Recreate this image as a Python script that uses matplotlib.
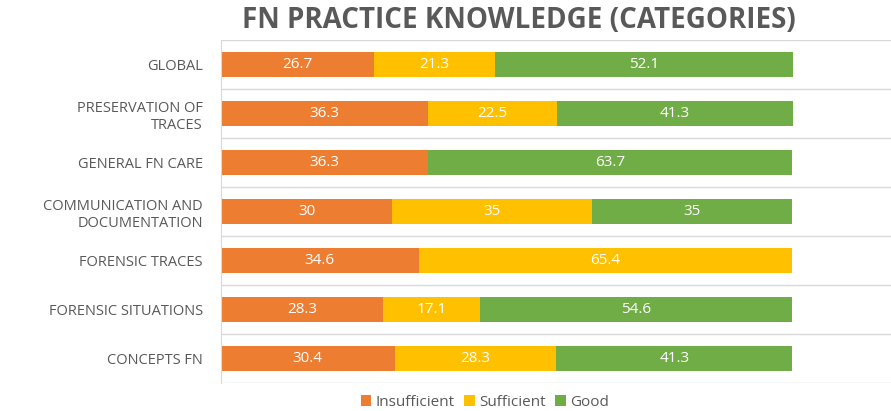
import matplotlib
matplotlib.use("Agg")
import matplotlib.pyplot as plt
import numpy as np

categories = ["GLOBAL", "PRESERVATION OF\nTRACES", "GENERAL FN CARE",
              "COMMUNICATION AND\nDOCUMENTATION", "FORENSIC TRACES",
              "FORENSIC SITUATIONS", "CONCEPTS FN"]
insufficient = [26.7, 36.3, 36.3, 30, 34.6, 28.3, 30.4]
sufficient = [21.3, 22.5, 0, 35, 65.4, 17.1, 28.3]
good = [52.1, 41.3, 63.7, 35, 0, 54.6, 41.3]
series_names = ["Insufficient", "Sufficient", "Good"]
colors = ["#ED7D31", "#FFC000", "#70AD47"]

plt.rcParams['font.family'] = ['Open Sans', 'DejaVu Sans']

fig = plt.figure(figsize=(8.91, 4.11), dpi=100)
ax = fig.add_axes([221/891, 1-383/411, 1-221/891+0.002, (383-40)/411])

y = np.arange(len(categories))
left = np.zeros(len(categories))
for name, vals, c in zip(series_names, [insufficient, sufficient, good], colors):
    vals = np.array(vals, dtype=float)
    ax.barh(y, vals, left=left, height=0.53, color=c, label=name)
    for yi, l, v in zip(y, left, vals):
        if v > 0:
            ax.text(l + v/2, yi, f"{v:g}", ha="center", va="center",
                    color="white", fontsize=11)
    left += vals

ax.set_xlim(0, 117.6)
ax.set_ylim(len(categories) - 0.5, -0.5)
ax.set_yticks(y)
ax.set_yticklabels(categories, fontsize=10.5, color="#595959", linespacing=1.25)
ax.tick_params(axis="y", length=0, pad=13)
ax.set_xticks([])
ax.set_yticks(np.arange(-0.5, len(categories), 1), minor=True)
ax.grid(True, which="minor", axis="y", color="#D9D9D9", linewidth=1)
ax.tick_params(axis="y", which="minor", length=0)
ax.set_axisbelow(True)
for s in ["top", "right", "bottom"]:
    ax.spines[s].set_visible(False)
ax.spines["left"].set_color("#D9D9D9")

fig.text(519/891, 1-20/411, "FN PRACTICE KNOWLEDGE (CATEGORIES)", ha="center",
         va="center", fontsize=20, fontweight="bold", color="#595959")

handles, labels = ax.get_legend_handles_labels()
fig.legend(handles, labels, loc="center", bbox_to_anchor=(485/891, 1-402/411),
           ncol=3, frameon=False, fontsize=11, handlelength=0.7, handleheight=0.7,
           handletextpad=0.3, columnspacing=0.6, labelcolor="#595959")

fig.savefig("out.png", dpi=100)
